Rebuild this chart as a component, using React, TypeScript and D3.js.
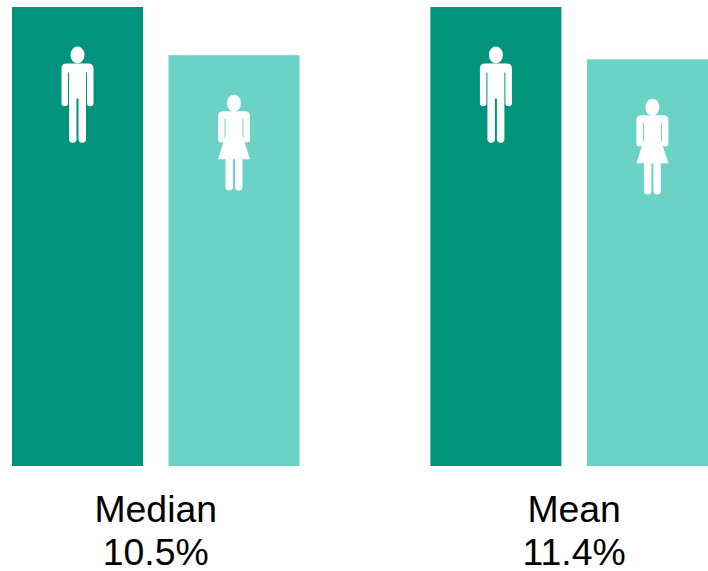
import React from 'react';
import * as d3 from 'd3';

const groups = ['Median', 'Mean'];
const gapLabels = ['10.5%', '11.4%'];
const sexes = ['Men', 'Women'];
// pay indexed to men = 100
const menValues = [100, 100];
const womenValues = [89.5, 88.6];

const width = 708;
const height = 571;

// icons are drawn around x = 0, y = 0 at the top of their bar
const manPath = 'M-11-49H11Q16-49 16-44V-9.5A3.2 3.2 0 0 1 9.5-9.5V-40H8.5V-7V26.5A3.7 3.7 0 0 1 1 26.5V-14H-1V26.5A3.7 3.7 0 0 1-8.5 26.5V-7V-40H-9.5V-9.5A3.2 3.2 0 0 1-16-9.5V-44Q-16-49-11-49Z';
const womanPath = 'M-11-48.5H11Q16-48.5 16-43.5V-20.5A3.2 3.2 0 0 1 9.5-20.5V-41H8.5V-24L16-0.5H8.5V27A3.7 3.7 0 0 1 1 27V-0.5H-1V27A3.7 3.7 0 0 1-8.5 27V-0.5H-16L-8.5-24V-41H-9.5V-20.5A3.2 3.2 0 0 1-16-20.5V-43.5Q-16-48.5-11-48.5Z';

function Person({ x, y, sex }: { x: number; y: number; sex: string }) {
  const isMan = sex === 'Men';
  // body sits lower than the bar top, head just above the shoulders
  const bodyY = y + (isMan ? 105.5 : 104.5);
  return (
    <g fill="#fff" transform={`translate(${x},${bodyY})`}>
      <ellipse cx={0} cy={isMan ? -57.5 : -56.5} rx={7} ry={8.5} />
      <path d={isMan ? manPath : womanPath} />
    </g>
  );
}

export default function App() {
  const x0 = d3.scaleBand().domain(groups).range([12, 717.9]).paddingInner(0.3129);
  const x1 = d3.scaleBand().domain(sexes).range([0, x0.bandwidth()]).paddingInner(0.163);
  const y = d3.scaleLinear().domain([0, 100]).range([466, 7]);
  const color = d3.scaleOrdinal<string>().domain(sexes).range(['#00947c', '#6bd2c6']);

  return (
    <svg
      width={width}
      height={height}
      viewBox={`0 0 ${width} ${height}`}
      style={{ position: 'absolute', left: 0, top: 0, background: '#fff' }}
    >
      {groups.map((g, i) => {
        const values = [menValues[i], womenValues[i]];
        const cx = x0(g)! + x0.bandwidth() / 2;
        return (
          <g key={g}>
            {sexes.map((s, j) => (
              <g key={s}>
                <rect
                  x={x0(g)! + x1(s)!}
                  y={y(values[j])}
                  width={x1.bandwidth()}
                  height={y(0) - y(values[j])}
                  fill={color(s)}
                />
                <Person x={x0(g)! + x1(s)! + x1.bandwidth() / 2} y={y(values[j])} sex={s} />
              </g>
            ))}
            <text x={cx} y={522} textAnchor="middle" fontFamily="'Liberation Sans', Arial, sans-serif" fontSize={37.4} fill="#000">{g}</text>
            <text x={cx} y={565} textAnchor="middle" fontFamily="'Liberation Sans', Arial, sans-serif" fontSize={37.4} fill="#000">{gapLabels[i]}</text>
          </g>
        );
      })}
    </svg>
  );
}
